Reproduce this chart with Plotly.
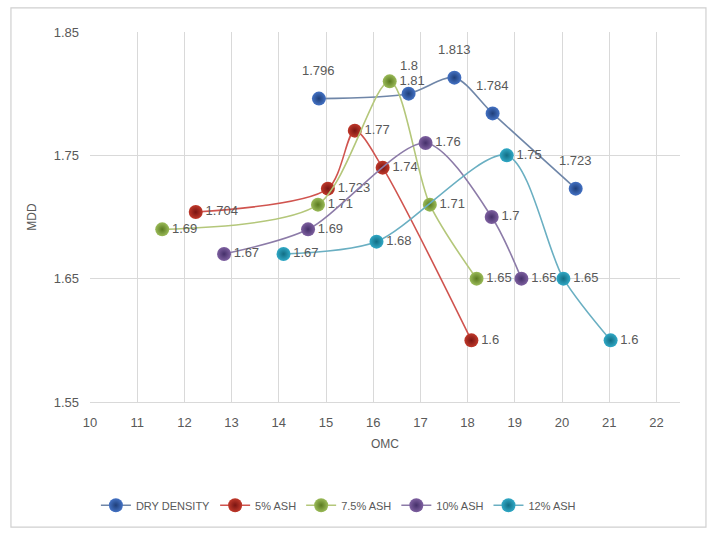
import plotly.graph_objects as go

series_names = ["DRY DENSITY", "5% ASH", "7.5% ASH", "10% ASH", "12% ASH"]

dry_omc = [14.85, 16.75, 17.72, 18.53, 20.29]
dry_mdd = [1.796, 1.8, 1.813, 1.784, 1.723]

ash5_omc = [12.24, 15.04, 15.61, 16.2, 18.08]
ash5_mdd = [1.704, 1.723, 1.77, 1.74, 1.6]

ash75_omc = [11.53, 14.83, 16.35, 17.2, 18.19]
ash75_mdd = [1.69, 1.71, 1.81, 1.71, 1.65]

ash10_omc = [12.84, 14.62, 17.11, 18.51, 19.14]
ash10_mdd = [1.67, 1.69, 1.76, 1.7, 1.65]

ash12_omc = [14.1, 16.07, 18.83, 20.03, 21.03]
ash12_mdd = [1.67, 1.68, 1.75, 1.65, 1.6]

x_ticks = list(range(10, 23))
y_ticks = [1.55, 1.65, 1.75, 1.85]

colors = ["#4472C4", "#C0392B", "#9BBB59", "#7E60A0", "#31A9C6"]
edge_colors = ["#1F3F7A", "#7A1512", "#5A7A20", "#45306A", "#126E85"]
line_colors = ["#6F86A8", "#D0544F", "#B4C77A", "#8C7BA8", "#6AAFC2"]

all_x = [dry_omc, ash5_omc, ash75_omc, ash10_omc, ash12_omc]
all_y = [dry_mdd, ash5_mdd, ash75_mdd, ash10_mdd, ash12_mdd]

font_family = "Liberation Sans Narrow, Arial Narrow, Liberation Sans, sans-serif"
label_font = dict(family=font_family, size=13, color="#595959")

fig = go.Figure()
for i, name in enumerate(series_names):
    is_dry = (i == 0)
    fig.add_trace(go.Scatter(
        x=all_x[i], y=all_y[i], name=name,
        mode="lines+markers" if is_dry else "lines+markers+text",
        text=None if is_dry else [f"{v:g}" for v in all_y[i]],
        textposition="middle right",
        textfont=label_font,
        line=dict(color=line_colors[i], width=1.6, shape="spline", smoothing=0.8),
        marker=dict(size=14, color=colors[i],
                    gradient=dict(type="radial", color=edge_colors[i]),
                    line=dict(width=0)),
        cliponaxis=False,
    ))

annotations = []
for xv, yv in zip(dry_omc, dry_mdd):
    annotations.append(dict(x=xv, y=yv, xref="x", yref="y", text=f"{yv:g}",
                            showarrow=False, yshift=28, font=label_font))

fig.update_layout(
    width=715, height=534,
    margin=dict(l=90, r=35, t=32, b=132),
    paper_bgcolor="white", plot_bgcolor="white",
    font=dict(family=font_family, color="#595959", size=13),
    xaxis=dict(
        range=[10, 22.5], tickvals=x_ticks, ticktext=[str(v) for v in x_ticks],
        showgrid=True, gridcolor="#D9D9D9", gridwidth=1.3,
        showline=True, linecolor="#D9D9D9", linewidth=1.3,
        zeroline=False, ticks="", ticklabelstandoff=8,
        title=dict(text="OMC", font=dict(size=12, color="#595959"), standoff=10),
        tickfont=dict(size=13, color="#595959"),
    ),
    yaxis=dict(
        range=[1.55, 1.85], tickvals=y_ticks, ticktext=["1.55", "1.65", "1.75", "1.85"],
        showgrid=True, gridcolor="#D9D9D9", gridwidth=1.3,
        showline=False, zeroline=False, ticks="", ticklabelstandoff=10,
        title=dict(text="MDD", font=dict(size=12, color="#595959"), standoff=14),
        tickfont=dict(size=13, color="#595959"),
    ),
    legend=dict(
        orientation="h", x=0.01, xanchor="left", y=-0.24, yanchor="top",
        font=dict(size=11, color="#595959"), itemwidth=30,
        bgcolor="rgba(0,0,0,0)", tracegroupgap=0,
    ),
    annotations=annotations,
    shapes=[dict(type="rect", xref="paper", yref="paper",
                 x0=-0.134, x1=1.044, y0=-0.338, y1=1.065,
                 line=dict(color="#D0D0D0", width=1.2), fillcolor="rgba(0,0,0,0)",
                 layer="below")],
)

fig.write_html("out.html")
